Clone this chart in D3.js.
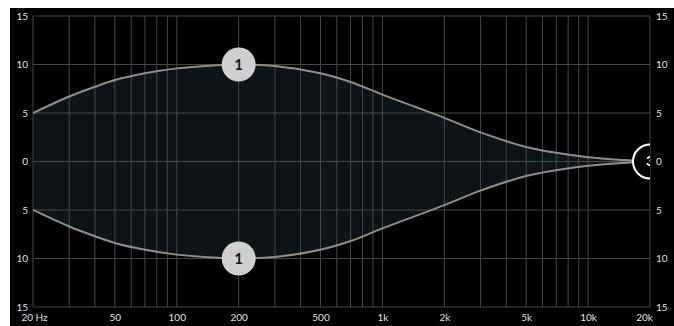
<!DOCTYPE html>
<html>
<head>
<meta charset="utf-8">
<script src="https://cdn.jsdelivr.net/npm/d3@7"></script>
<style>
  body { margin: 0; background: #fff; }
  svg text { font-family: "Lato", "Noto Sans", sans-serif; }
</style>
</head>
<body>
<div id="chart"></div>
<script>
// frequency points (Hz)
var freqs = [20, 30, 40, 50, 70, 100, 150, 200, 300, 500, 700, 1000, 1500, 2000, 3000, 5000, 7000, 10000, 15000, 20000];
// upper curve (dB)
var upperGain = [5, 6.7, 7.7, 8.4, 9.1, 9.6, 9.9, 10, 9.85, 9.1, 8.2, 6.9, 5.5, 4.5, 3.0, 1.5, 0.9, 0.45, 0.15, 0];
// lower curve (dB)
var lowerGain = [-5, -6.7, -7.7, -8.4, -9.1, -9.6, -9.9, -10, -9.85, -9.1, -8.2, -6.9, -5.5, -4.5, -3.0, -1.5, -0.9, -0.45, -0.15, 0];

var xTickValues = [20, 50, 100, 200, 500, 1000, 2000, 5000, 10000, 20000];
var xTickLabels = ["20 Hz", "50", "100", "200", "500", "1k", "2k", "5k", "10k", "20k"];
var yTickValues = [-15, -10, -5, 0, 5, 10, 15];

// band nodes: frequency, gain, label
var nodes = [
  {f: 200, g: 10, label: "1"},
  {f: 200, g: -10, label: "1"}
];
var edgeNode = {f: 20000, g: 0, label: "3"};

var W = 674, H = 326;
var margin = {top: 16, right: 24, bottom: 19, left: 33};
var width = W - margin.left - margin.right,
    height = H - margin.top - margin.bottom;

var svg = d3.select("#chart").append("svg")
  .attr("width", W).attr("height", H);

// black panel
svg.append("rect").attr("x", 10).attr("y", 8).attr("width", W - 10).attr("height", H - 8).attr("fill", "#000");

var g = svg.append("g").attr("transform", "translate(" + margin.left + "," + margin.top + ")");

var x = d3.scaleLog().domain([20, 20000]).range([0, width]);
var y = d3.scaleLinear().domain([-15, 15]).range([height, 0]);

g.append("clipPath").attr("id", "plotclip")
  .append("rect").attr("width", width).attr("height", height);

var pts = freqs.map(function(f, i) { return {f: f, hi: upperGain[i], lo: lowerGain[i]}; });
var curve = d3.curveCatmullRom.alpha(0.5);

var plot = g.append("g").attr("clip-path", "url(#plotclip)");

// filled band
plot.append("path").datum(pts)
  .attr("fill", "#0b1417")
  .attr("d", d3.area().curve(curve)
    .x(function(d) { return x(d.f); })
    .y0(function(d) { return y(d.lo); })
    .y1(function(d) { return y(d.hi); }));

// grid
var gridColor = "#474747";
g.append("g").selectAll("line").data(x.ticks()).enter().append("line")
  .attr("x1", function(d) { return x(d); }).attr("x2", function(d) { return x(d); })
  .attr("y1", 0).attr("y2", height)
  .attr("stroke", gridColor).attr("stroke-width", 1);
g.append("g").selectAll("line").data(yTickValues).enter().append("line")
  .attr("x1", 0).attr("x2", width)
  .attr("y1", function(d) { return y(d); }).attr("y2", function(d) { return y(d); })
  .attr("stroke", gridColor).attr("stroke-width", 1);

var curves = g.append("g").attr("clip-path", "url(#plotclip)");
["hi", "lo"].forEach(function(k) {
  curves.append("path").datum(pts)
    .attr("fill", "none")
    .attr("stroke", "#8e8e8e")
    .attr("stroke-width", 2)
    .attr("d", d3.line().curve(curve)
      .x(function(d) { return x(d.f); })
      .y(function(d) { return y(d[k]); }));
});

// edge node (half visible)
var en = curves.append("g").attr("transform", "translate(" + x(edgeNode.f) + "," + y(edgeNode.g) + ")");
en.append("circle").attr("r", 17).attr("fill", "#000").attr("stroke", "#fff").attr("stroke-width", 2);
en.append("text").text(edgeNode.label)
  .attr("text-anchor", "middle").attr("dy", "0.35em")
  .attr("fill", "#fff").attr("font-size", 14).attr("font-weight", "bold");

// nodes
var nd = g.append("g").selectAll("g").data(nodes).enter().append("g")
  .attr("transform", function(d) { return "translate(" + x(d.f) + "," + y(d.g) + ")"; });
nd.append("circle").attr("r", 17).attr("fill", "#cfcfcf");
nd.append("text").text(function(d) { return d.label; })
  .attr("text-anchor", "middle").attr("dy", "0.36em")
  .attr("fill", "#1a1a1a").attr("font-size", 15).attr("font-weight", "bold");

// axes labels
var labelColor = "#e0e0e0";
var xAxis = g.append("g").attr("transform", "translate(0," + height + ")")
  .call(d3.axisBottom(x).tickValues(xTickValues).tickFormat(function(d, i) { return xTickLabels[i]; }).tickSize(0).tickPadding(7));
xAxis.select(".domain").remove();
xAxis.selectAll("text").attr("fill", labelColor).attr("font-size", 10)
  .attr("dx", function(d, i) { return i === 0 ? 1 : (i === xTickValues.length - 1 ? -6 : 0); });

var yLeft = g.append("g")
  .call(d3.axisLeft(y).tickValues(yTickValues).tickFormat(function(d) { return Math.abs(d); }).tickSize(0).tickPadding(5));
yLeft.select(".domain").remove();
yLeft.selectAll("text").attr("fill", labelColor).attr("font-size", 10);

var yRight = g.append("g").attr("transform", "translate(" + width + ",0)")
  .call(d3.axisRight(y).tickValues(yTickValues).tickFormat(function(d) { return Math.abs(d); }).tickSize(0).tickPadding(6));
yRight.select(".domain").remove();
yRight.selectAll("text").attr("fill", labelColor).attr("font-size", 10);
</script>
</body>
</html>
